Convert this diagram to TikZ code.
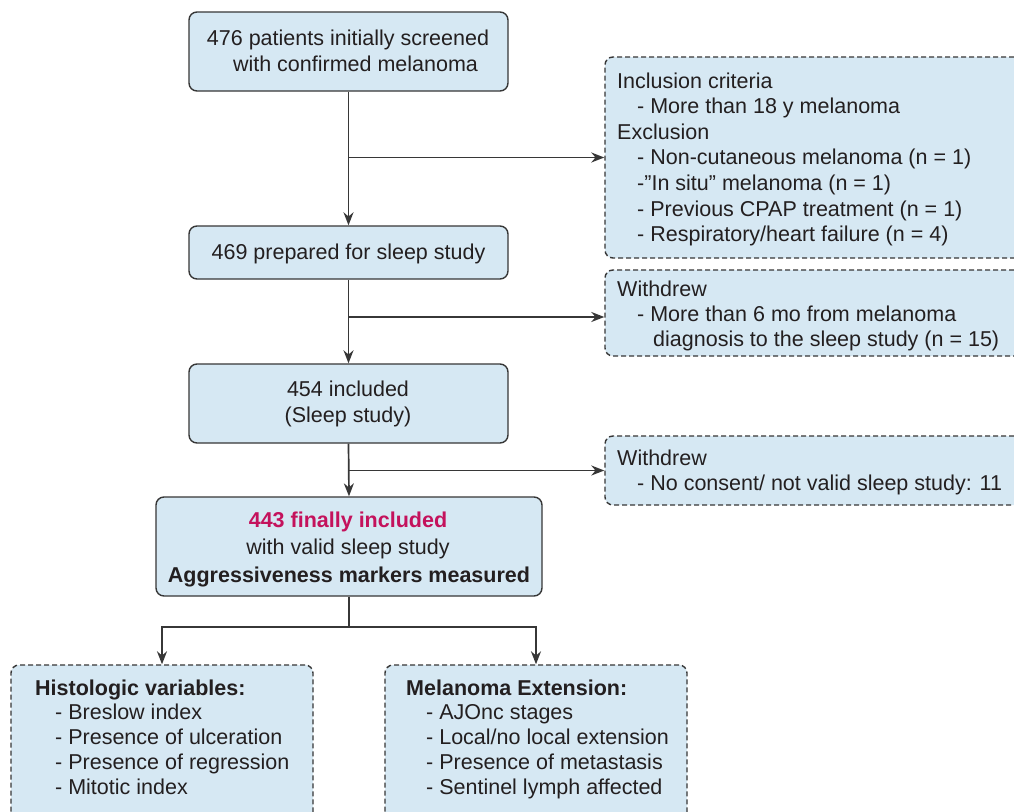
\documentclass[tikz,border=0pt]{standalone}
\usepackage{fontspec}
\setmainfont{Liberation Sans}
\usetikzlibrary{arrows.meta}
\definecolor{boxfill}{RGB}{214,232,243}
\definecolor{edge}{RGB}{55,55,55}
\definecolor{ink}{RGB}{35,31,32}
\definecolor{accent}{RGB}{196,18,92}
\newcommand\ind{\hspace*{20pt}}
\newcommand\indc{\hspace*{36pt}}
\newcommand\indb{\hspace*{20pt}}
\begin{document}
\begin{tikzpicture}[x=1pt,y=-1pt,
  solidbox/.style={draw=edge, line width=1.4pt, fill=boxfill, rounded corners=8pt, rectangle, inner sep=0pt},
  dashbox/.style={solidbox, dash pattern=on 5pt off 3pt},
  txt/.style={inner sep=0pt, text=ink, font=\fontsize{21.5}{25.6}\selectfont},
  link/.style={draw=edge, line width=1.7pt, -{Stealth[length=13pt,width=10pt]}},
  plain/.style={draw=edge, line width=1.7pt}]
\useasboundingbox (0,0) rectangle (1014,811);
\clip (0,0) rectangle (1014,811);
\fill[white] (0,0) rectangle (1014,811);
% boxes
\node[solidbox, minimum width=319pt, minimum height=79pt] (b1) at (348.5,51.5) {};
\node[solidbox, minimum width=319pt, minimum height=53pt] (b2) at (348.5,252.5) {};
\node[solidbox, minimum width=319pt, minimum height=79pt] (b3) at (348.5,403.5) {};
\node[solidbox, minimum width=386pt, minimum height=99pt] (b4) at (349,546.5) {};
\node[dashbox, minimum width=425pt, minimum height=201pt] (r1) at (817.5,157.5) {};
\node[dashbox, minimum width=425pt, minimum height=86pt] (r2) at (817.5,313) {};
\node[dashbox, minimum width=425pt, minimum height=69pt] (r3) at (817.5,470.5) {};
\node[dashbox, minimum width=302pt, minimum height=165pt] (h1) at (162,747.5) {};
\node[dashbox, minimum width=302pt, minimum height=165pt] (h2) at (536,747.5) {};
% texts
\node[txt, anchor=base] (t1) at (348,45.7) {\begin{tabular}[t]{@{}c@{}}476 patients initially screened\\ \hspace*{15pt}with confirmed melanoma\end{tabular}};
\node[txt, anchor=base] (t2) at (348.5,259) {469 prepared for sleep study};
\node[txt, anchor=base, font=\fontsize{21.5}{26}\selectfont] (t3) at (348,396) {\begin{tabular}[t]{@{}c@{}}454 included\\(Sleep study)\end{tabular}};
\node[txt, anchor=base, text=accent, font=\fontsize{21.5}{25.6}\selectfont\bfseries] (t4a) at (348,527) {443 finally included};
\node[txt, anchor=base] (t4b) at (348,554.3) {with valid sleep study};
\node[txt, anchor=base, font=\fontsize{21.5}{25.6}\selectfont\bfseries] (t4c) at (349,582.7) {Aggressiveness markers measured};
\node[txt, anchor=base west] (u1) at (617,88) {\begin{tabular}[t]{@{}l@{}}Inclusion criteria\\
\ind- More than 18 y melanoma\\
Exclusion\\
\ind- Non-cutaneous melanoma (n = 1)\\
\ind-”In situ” melanoma (n = 1)\\
\ind- Previous CPAP treatment (n = 1)\\
\ind- Respiratory/heart failure (n = 4)\end{tabular}};
\node[txt, anchor=base west, font=\fontsize{21.5}{25.1}\selectfont] (u2) at (617,296.5) {\begin{tabular}[t]{@{}l@{}}Withdrew\\
\ind- More than 6 mo from melanoma\\
\indc diagnosis to the sleep study (n = 15)\end{tabular}};
\node[txt, anchor=base west] (u3) at (617,465) {\begin{tabular}[t]{@{}l@{}}Withdrew\\
\ind- No consent/ not valid sleep study: 11\end{tabular}};
\node[txt, anchor=base west, font=\fontsize{21.5}{24.8}\selectfont] (v1) at (35,695) {\begin{tabular}[t]{@{}l@{}}\textbf{Histologic variables:}\\
\indb- Breslow index\\
\indb- Presence of ulceration\\
\indb- Presence of regression\\
\indb- Mitotic index\end{tabular}};
\node[txt, anchor=base west, font=\fontsize{21.5}{24.8}\selectfont] (v2) at (406,695) {\begin{tabular}[t]{@{}l@{}}\textbf{Melanoma Extension:}\\
\indb- AJOnc stages\\
\indb- Local/no local extension\\
\indb- Presence of metastasis\\
\indb- Sentinel lymph affected\end{tabular}};
% connectors
\draw[link] (b1.south) -- (b2.north);
\draw[link] (b1.south |- r1.west) -- (r1.west);
\draw[link] (b2.south) -- (b3.north);
\draw[link] (b2.south |- 0,317) coordinate (s2) -- (r2.west |- s2);
\draw[link] (b3.south) -- (b4.north);
\draw[link] (b3.south |- r3.west) -- (r3.west);
\draw[plain] (b4.south) -- ++(0,30) coordinate (split);
\draw[link] (split) -| (h1.north);
\draw[link] (split) -| (h2.north);
\end{tikzpicture}
\end{document}
